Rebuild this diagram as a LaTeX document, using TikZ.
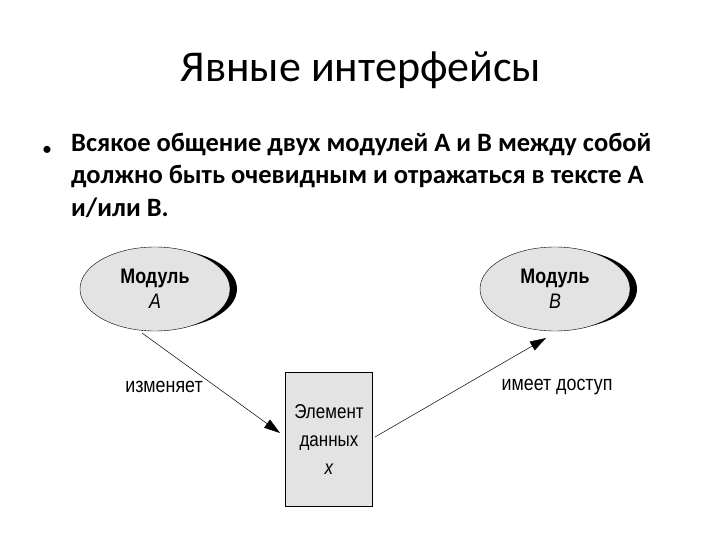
\documentclass[tikz,border=0pt]{standalone}
\usepackage{fontspec}
\setmainfont{Carlito}
\newfontfamily\arial[FakeStretch=0.85]{Liberation Sans}
\usetikzlibrary{shapes.geometric,arrows.meta}
\begin{document}
\begin{tikzpicture}[x=1pt,y=-1pt,
  modl/.style={ellipse,draw,fill=gray!22,minimum width=150pt,minimum height=84pt,align=center,font=\arial\fontsize{21}{25}\selectfont},
  shad/.style={ellipse,fill=black,minimum width=150pt,minimum height=80pt},
  lbl/.style={font=\arial\fontsize{21}{24}\selectfont},
  conn/.style={-{Triangle[length=16pt,width=10pt]},line width=0.5pt}]
\useasboundingbox (0,0) rectangle (720,540);
\node[font=\fontsize{44}{48}\selectfont] (title) at (361,70) {Явные интерфейсы};
\node[anchor=north west,align=left,font=\bfseries\fontsize{26.5}{32.5}\selectfont,inner sep=0] (txt) at (71,133)
 {Всякое общение двух модулей А и В между собой\\должно быть очевидным и отражаться в тексте А\\и/или В.};
\node[font=\fontsize{20}{24}\selectfont,anchor=base] (bul) at (47,156) {•};
\node[shad] (sa) at (162,289) {};
\node[modl] (a) at (155,289) {\textbf{Модуль}\\\textit{A}};
\node[shad] (sb) at (562,289) {};
\node[modl] (b) at (555,289) {\textbf{Модуль}\\\textit{B}};
\node[draw,fill=gray!22,minimum width=87pt,minimum height=134pt,anchor=north west,inner sep=0] (x) at (285,372) {};
\node[lbl,align=center,font=\arial\fontsize{20}{24}\selectfont] (xt) at (329,440) {Элемент\\[4pt]данных\\[4pt]\textit{x}};
\coordinate (as) at (142,333);
\coordinate (ae) at (280,433);
\coordinate (bs) at (375,437);
\coordinate (be) at (546,338);
\draw[conn] (as) -- (ae);
\draw[conn] (bs) -- (be);
\node[lbl] (l1) at (164,387) {изменяет};
\node[lbl] (l2) at (557,387) {имеет доступ};
\end{tikzpicture}
\end{document}
